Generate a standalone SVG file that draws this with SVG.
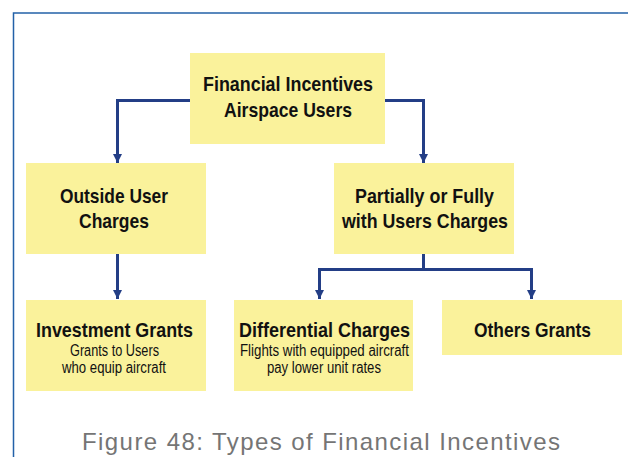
<svg xmlns="http://www.w3.org/2000/svg" width="628" height="457" viewBox="0 0 628 457">
<style>
.box{fill:#FAF29B;}
.t{font-family:"Liberation Sans",Arial,sans-serif;font-weight:bold;font-size:21px;fill:#111;text-anchor:middle;}
.s{font-family:"Liberation Sans",Arial,sans-serif;font-size:16px;fill:#111;text-anchor:middle;}
.c{fill:none;stroke:#233E86;stroke-width:3;}
.cap{font-family:"Liberation Sans",Arial,sans-serif;font-size:24px;fill:#757575;}
</style>
<defs>
<marker id="ah" viewBox="0 0 10 10" refX="10" refY="5" markerWidth="9" markerHeight="9" markerUnits="userSpaceOnUse" orient="auto">
<path d="M0,0 L10,5 L0,10 z" fill="#233E86"/>
</marker>
</defs>
<rect x="0" y="0" width="628" height="457" fill="#fff"/>
<rect x="13.5" y="13" width="700" height="500" fill="none" stroke="#2361A8" stroke-width="1.5"/>
<g id="connectors">
<path class="c" d="M190,100.5 H117.5 V163" marker-end="url(#ah)"/>
<path class="c" d="M385,100.5 H423.5 V163" marker-end="url(#ah)"/>
<path class="c" d="M117.5,254 V299" marker-end="url(#ah)"/>
<path class="c" d="M423.5,254 V269.5 H319.5 V299" marker-end="url(#ah)"/>
<path class="c" d="M423.5,269.5 H531.5 V299" marker-end="url(#ah)"/>
</g>
<g id="n-root">
<rect class="box" x="190" y="53" width="195" height="91"/>
<text class="t" x="288" y="91" textLength="170" lengthAdjust="spacingAndGlyphs">Financial Incentives</text>
<text class="t" x="288" y="117" textLength="128" lengthAdjust="spacingAndGlyphs">Airspace Users</text>
</g>
<g id="n-outside">
<rect class="box" x="26" y="163" width="180" height="91"/>
<text class="t" x="114" y="203" textLength="108" lengthAdjust="spacingAndGlyphs">Outside User</text>
<text class="t" x="114" y="228" textLength="70" lengthAdjust="spacingAndGlyphs">Charges</text>
</g>
<g id="n-partial">
<rect class="box" x="334" y="163" width="180" height="91"/>
<text class="t" x="424.5" y="203" textLength="139" lengthAdjust="spacingAndGlyphs">Partially or Fully</text>
<text class="t" x="425" y="228" textLength="166" lengthAdjust="spacingAndGlyphs">with Users Charges</text>
</g>
<g id="n-investment">
<rect class="box" x="26" y="300" width="180" height="91"/>
<text class="t" x="114.5" y="337" textLength="157" lengthAdjust="spacingAndGlyphs">Investment Grants</text>
<text class="s" x="114.5" y="356" textLength="89" lengthAdjust="spacingAndGlyphs">Grants to Users</text>
<text class="s" x="114" y="373" textLength="104" lengthAdjust="spacingAndGlyphs">who equip aircraft</text>
</g>
<g id="n-differential">
<rect class="box" x="234" y="300" width="179" height="91"/>
<text class="t" x="324.5" y="337" textLength="171" lengthAdjust="spacingAndGlyphs">Differential Charges</text>
<text class="s" x="324.5" y="356" textLength="169" lengthAdjust="spacingAndGlyphs">Flights with equipped aircraft</text>
<text class="s" x="324" y="373" textLength="114" lengthAdjust="spacingAndGlyphs">pay lower unit rates</text>
</g>
<g id="n-others">
<rect class="box" x="442" y="300" width="180" height="55"/>
<text class="t" x="532.5" y="337" textLength="117" lengthAdjust="spacingAndGlyphs">Others Grants</text>
</g>
<text class="cap" x="82" y="450" textLength="478" lengthAdjust="spacing">Figure 48: Types of Financial Incentives</text>
</svg>
